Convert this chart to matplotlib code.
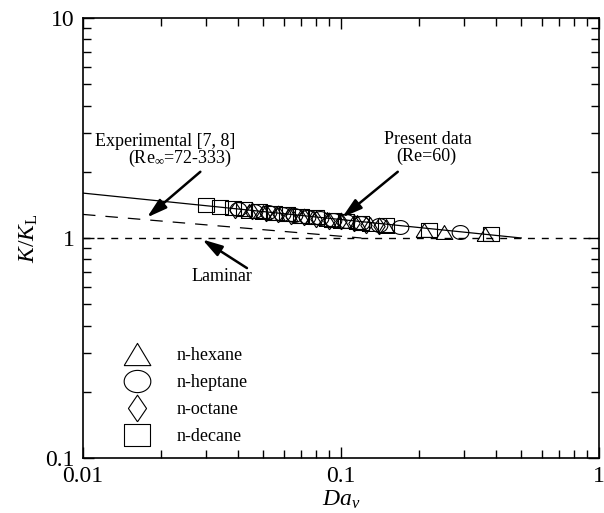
import numpy as np
import matplotlib
matplotlib.use('Agg')
import matplotlib.pyplot as plt

plt.rcParams['font.family'] = ['Liberation Serif', 'DejaVu Serif']
plt.rcParams['mathtext.fontset'] = 'custom'
plt.rcParams['mathtext.rm'] = 'Liberation Serif'
plt.rcParams['mathtext.it'] = 'Liberation Serif:italic'

# data
da_hexane = [0.044, 0.050, 0.056, 0.063, 0.070, 0.078, 0.088, 0.10, 0.115, 0.13, 0.15, 0.21, 0.25, 0.36]
k_hexane = [1.33, 1.31, 1.30, 1.28, 1.26, 1.24, 1.22, 1.20, 1.18, 1.16, 1.13, 1.09, 1.07, 1.04]

da_heptane = [0.040, 0.046, 0.052, 0.059, 0.066, 0.074, 0.083, 0.093, 0.105, 0.12, 0.14, 0.17, 0.29]
k_heptane = [1.35, 1.33, 1.31, 1.29, 1.27, 1.25, 1.23, 1.21, 1.19, 1.17, 1.14, 1.12, 1.06]

da_octane = [0.039, 0.045, 0.051, 0.057, 0.064, 0.072, 0.080, 0.090, 0.100, 0.112, 0.125, 0.14]
k_octane = [1.34, 1.32, 1.30, 1.28, 1.26, 1.24, 1.22, 1.20, 1.19, 1.17, 1.15, 1.13]

da_decane = [0.030, 0.034, 0.038, 0.042, 0.048, 0.055, 0.062, 0.070, 0.080, 0.092, 0.105, 0.12, 0.15, 0.22, 0.38]
k_decane = [1.41, 1.39, 1.37, 1.35, 1.33, 1.30, 1.28, 1.26, 1.24, 1.21, 1.19, 1.17, 1.14, 1.09, 1.04]

# correlation lines
da_present = [0.01, 0.5]
k_present = [1.6, 1.0]
da_exp = [0.01, 0.12]
k_exp = [1.28, 1.0]
da_lam = [0.01, 1.0]
k_lam = [1.0, 1.0]

# slightly wide marker shapes (the original is stretched horizontally)
t = np.linspace(0, 2 * np.pi, 60)
ellipse = list(zip(1.2 * np.cos(t), np.sin(t)))
triangle = [(-1.2, -1.0), (1.2, -1.0), (0.0, 1.0), (-1.2, -1.0)]
square = [(-1.2, -1.0), (1.2, -1.0), (1.2, 1.0), (-1.2, 1.0), (-1.2, -1.0)]
diamond = [(0.0, -1.0), (0.68, 0.0), (0.0, 1.0), (-0.68, 0.0), (0.0, -1.0)]

fig = plt.figure(figsize=(6.04, 5.13), dpi=100)
ax = fig.add_axes([0.1374, 0.1072, 0.8543, 0.8577])

ax.plot(da_present, k_present, color='black', lw=0.9)
ax.plot(da_exp, k_exp, color='black', lw=0.9, dashes=(10, 8))
ax.plot(da_lam, k_lam, color='black', lw=1.0, dashes=(5, 5))

ms = 12
mew = 0.8
ax.plot(da_hexane, k_hexane, ls='none', marker=triangle, ms=ms, mfc='none', mec='black', mew=mew, label='n-hexane')
ax.plot(da_heptane, k_heptane, ls='none', marker=ellipse, ms=ms, mfc='none', mec='black', mew=mew, label='n-heptane')
ax.plot(da_octane, k_octane, ls='none', marker=diamond, ms=ms, mfc='none', mec='black', mew=mew, label='n-octane')
ax.plot(da_decane, k_decane, ls='none', marker=square, ms=ms, mfc='none', mec='black', mew=mew, label='n-decane')

ax.set_xscale('log')
ax.set_yscale('log')
ax.set_xlim(0.01, 1)
ax.set_ylim(0.1, 10)
ax.set_xticks([0.01, 0.1, 1])
ax.set_xticklabels(['0.01', '0.1', '1'])
ax.set_yticks([0.1, 1, 10])
ax.set_yticklabels(['0.1', '1', '10'])

ax.tick_params(which='both', direction='in', top=True, right=True, width=1.0)
ax.tick_params(which='major', length=8, labelsize=17, pad=6)
ax.tick_params(which='minor', length=6)
for s in ax.spines.values():
    s.set_linewidth(1.2)

ax.set_xlabel(r'$\mathit{Da}_{\nu}$', fontsize=17, labelpad=1)
ax.set_ylabel(r'$\mathit{K}/\mathit{K}_{\mathrm{L}}$', fontsize=17, labelpad=4)

arrow = dict(arrowstyle='-|>,head_length=1.2,head_width=0.35', color='black', lw=1.8, shrinkA=0, shrinkB=0)
ax.annotate('', xy=(0.0177, 1.24), xytext=(0.0285, 2.0), arrowprops=arrow)
ax.annotate('', xy=(0.101, 1.24), xytext=(0.166, 2.0), arrowprops=arrow)
ax.annotate('', xy=(0.029, 0.985), xytext=(0.0432, 0.73), arrowprops=arrow)

ax.text(0.0208, 2.76, 'Experimental [7, 8]', fontsize=13, ha='center', va='center')
ax.text(0.0238, 2.31, r'(Re$_{\infty}$=72-333)', fontsize=13, ha='center', va='center')
ax.text(0.218, 2.80, 'Present data', fontsize=13, ha='center', va='center')
ax.text(0.215, 2.35, '(Re=60)', fontsize=13, ha='center', va='center')
ax.text(0.0346, 0.665, 'Laminar', fontsize=13, ha='center', va='center')

ax.legend(loc='lower left', bbox_to_anchor=(0.045, -0.008), frameon=False, fontsize=13, markerscale=1.6,
          handlelength=1.6, handletextpad=1.4, labelspacing=0.55, borderaxespad=0.5)

fig.savefig('out.png', dpi=100)
